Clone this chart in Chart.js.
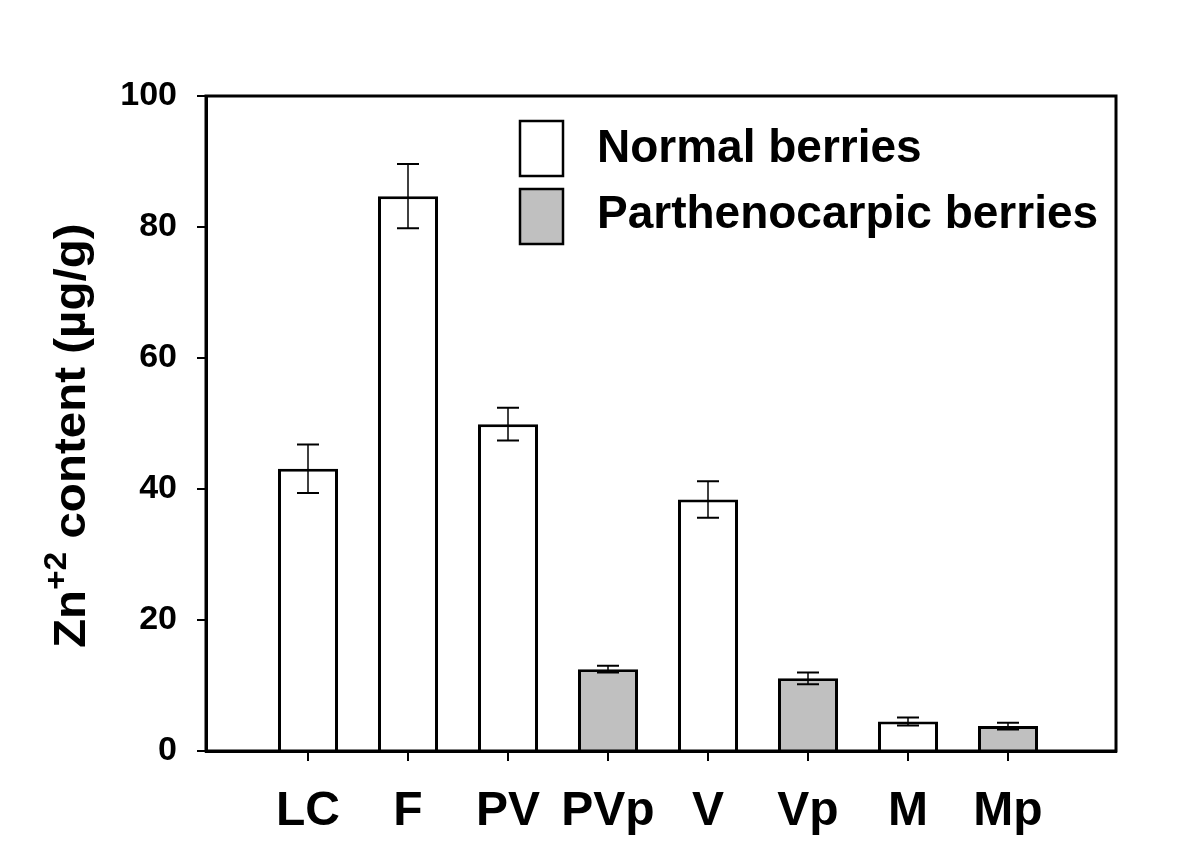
<!DOCTYPE html>
<html>
<head>
<meta charset="utf-8">
<script src="https://cdn.jsdelivr.net/npm/chart.js@4"></script>
<style>
  html, body { margin: 0; padding: 0; background: #fff; }
  #wrap { width: 1200px; height: 863px; }
</style>
</head>
<body>
<div id="wrap"><canvas id="myChart" width="1200" height="863"></canvas></div>
<script>
const categories = ['LC', 'F', 'PV', 'PVp', 'V', 'Vp', 'M', 'Mp'];
const contents = [43.1, 84.7, 49.9, 12.5, 38.4, 11.1, 4.5, 3.8]; // Zn+2 µg/g
const errors = [3.7, 4.9, 2.5, 0.5, 2.8, 0.9, 0.6, 0.5];
const berryType = ['normal', 'normal', 'normal', 'parth', 'normal', 'parth', 'normal', 'parth'];
const yTicks = [0, 20, 40, 60, 80, 100];

const FONT = "'Liberation Sans', Arial, sans-serif";

// split points by berry type, keep x as category index
const pointsOf = (type) => categories
    .map((c, i) => ({ x: i, y: contents[i], err: errors[i], type: berryType[i] }))
    .filter(p => p.type === type);

const data = {
    datasets: [
        {
            label: 'Normal berries',
            data: pointsOf('normal'),
            backgroundColor: '#ffffff',
            borderColor: '#000000',
            borderWidth: 3,
            grouped: false,
            barPercentage: 0.6,
            categoryPercentage: 1
        },
        {
            label: 'Parthenocarpic berries',
            data: pointsOf('parth'),
            backgroundColor: '#c0c0c0',
            borderColor: '#000000',
            borderWidth: 3,
            grouped: false,
            barPercentage: 0.6,
            categoryPercentage: 1
        }
    ]
};

// error bars on top of each bar
const errorBars = {
    id: 'errorBars',
    afterDatasetsDraw(chart) {
        const ctx = chart.ctx;
        const y = chart.scales.y;
        ctx.save();
        ctx.strokeStyle = '#000';
        chart.data.datasets.forEach((ds, di) => {
            const meta = chart.getDatasetMeta(di);
            meta.data.forEach((bar, i) => {
                const p = ds.data[i];
                const top = y.getPixelForValue(p.y + p.err);
                const bot = y.getPixelForValue(p.y - p.err);
                ctx.lineWidth = 1.5;
                ctx.beginPath();
                ctx.moveTo(bar.x, top);
                ctx.lineTo(bar.x, bot);
                ctx.stroke();
                ctx.lineWidth = 2;
                ctx.beginPath();
                ctx.moveTo(bar.x - 11, top);
                ctx.lineTo(bar.x + 11, top);
                ctx.moveTo(bar.x - 11, bot);
                ctx.lineTo(bar.x + 11, bot);
                ctx.stroke();
            });
        });
        ctx.restore();
    }
};

// frame, legend and y title with superscript
const decorations = {
    id: 'decorations',
    afterDraw(chart) {
        const ctx = chart.ctx;
        const a = chart.chartArea;
        ctx.save();
        ctx.strokeStyle = '#000';
        ctx.lineWidth = 3;
        ctx.strokeRect(a.left, a.top, a.right - a.left, a.bottom - a.top);

        // legend
        const rows = [{ top: 121, base: 162 }, { top: 189, base: 228 }];
        chart.data.datasets.forEach((ds, i) => {
            ctx.fillStyle = ds.backgroundColor;
            ctx.fillRect(520, rows[i].top, 43, 55);
            ctx.lineWidth = 2.5;
            ctx.strokeRect(520, rows[i].top, 43, 55);
            ctx.fillStyle = '#000';
            ctx.font = 'bold 46px ' + FONT;
            ctx.textAlign = 'left';
            ctx.textBaseline = 'alphabetic';
            ctx.fillText(ds.label, 597, rows[i].base);
        });

        // y axis title
        ctx.translate(85, 648);
        ctx.rotate(-Math.PI / 2);
        ctx.scale(1.08, 1);
        ctx.fillStyle = '#000';
        ctx.textAlign = 'left';
        ctx.textBaseline = 'alphabetic';
        ctx.font = 'bold 44px ' + FONT;
        ctx.fillText('Zn', 0, 0);
        let x = ctx.measureText('Zn').width;
        ctx.font = 'bold 31px ' + FONT;
        ctx.fillText('+2', x, -19);
        x += ctx.measureText('+2').width;
        ctx.font = 'bold 44px ' + FONT;
        ctx.fillText(' content (µg/g)', x, 0);
        ctx.restore();
    }
};

new Chart(document.getElementById('myChart').getContext('2d'), {
    type: 'bar',
    data: data,
    plugins: [errorBars, decorations],
    options: {
        responsive: false,
        animation: false,
        layout: { padding: { left: 0, right: 84, top: 96, bottom: 0 } },
        plugins: {
            legend: { display: false },
            tooltip: { enabled: false }
        },
        scales: {
            x: {
                type: 'linear',
                offset: false,
                min: -1.02,
                max: categories.length + 0.08,
                afterBuildTicks: (scale) => {
                    scale.ticks = categories.map((c, i) => ({ value: i }));
                },
                afterFit: (scale) => { scale.height = 112; },
                grid: { offset: false, drawOnChartArea: false, drawTicks: true, tickLength: 10, color: '#000', lineWidth: 2 },
                border: { color: '#000', width: 3 },
                ticks: {
                    autoSkip: false,
                    maxRotation: 0,
                    padding: 22,
                    color: '#000',
                    font: { family: FONT, size: 48, weight: 'bold' },
                    callback: (v) => categories[v]
                }
            },
            y: {
                min: 0,
                max: 100,
                afterBuildTicks: (scale) => {
                    scale.ticks = yTicks.map(v => ({ value: v }));
                },
                afterFit: (scale) => { scale.width = 206; },
                grid: { drawOnChartArea: false, drawTicks: true, tickLength: 9, color: '#000', lineWidth: 2 },
                border: { color: '#000', width: 3 },
                ticks: {
                    padding: 20,
                    color: '#000',
                    font: { family: FONT, size: 34, weight: 'bold' }
                }
            }
        }
    }
});
</script>
</body>
</html>
